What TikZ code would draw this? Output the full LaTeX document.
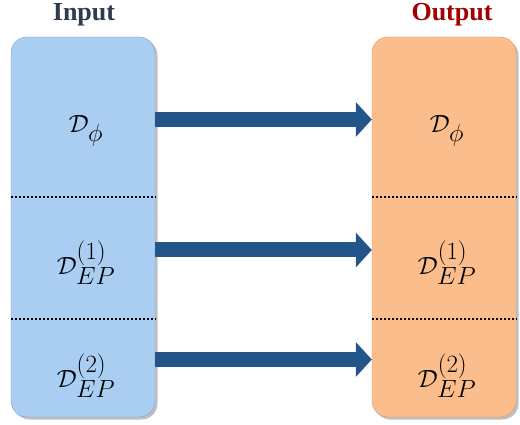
\documentclass[tikz,border=0pt]{standalone}
\usepackage{fontspec}
\setmainfont{Liberation Serif}
\usetikzlibrary{positioning,arrows.meta,shadows}
\definecolor{inblue}{HTML}{A9CEF2}
\definecolor{inedge}{HTML}{7EA3C8}
\definecolor{outpeach}{HTML}{FBBD8C}
\definecolor{outedge}{HTML}{D49A6C}
\definecolor{flowblue}{HTML}{24558A}
\definecolor{inhead}{HTML}{2E3A4E}
\definecolor{outhead}{HTML}{A00000}

\begin{document}
\begin{tikzpicture}[x=1pt,y=-1pt,
   column/.style={rectangle, rounded corners=16pt, minimum width=144pt,
      minimum height=380pt, inner sep=0pt,
      drop shadow={shadow xshift=2.5pt, shadow yshift=-2.5pt, opacity=.5}},
   head/.style={font=\fontsize{26}{30}\selectfont\bfseries, inner sep=0pt},
   lbl/.style={font=\fontsize{34}{38}\selectfont, inner sep=0pt},
   sep/.style={line width=2pt, dash pattern=on 2pt off 2pt},
   flow/.style={draw=flowblue, line width=15pt, -{Triangle[length=16pt,width=34pt]}}]
   \useasboundingbox (0,0) rectangle (520,425);

   % columns
   \node[column, fill=inblue, draw=inedge] (in) at (83,227) {};
   \node[column, fill=outpeach, draw=outedge] (out) at (444,227) {};
   \node[head, text=inhead] (inlbl) at (84,15) {Input};
   \node[head, text=outhead] (outlbl) at (452,15) {Output};

   % rows
   \coordinate (r1) at (0,119.5);
   \coordinate (r2) at (0,250);
   \coordinate (r3) at (0,359.5);
   \coordinate (d1) at (0,197);
   \coordinate (d2) at (0,319);

   \draw[sep] (in.west |- d1) -- (in.east |- d1);
   \draw[sep] (in.west |- d2) -- (in.east |- d2);
   \draw[sep] (out.west |- d1) -- (out.east |- d1);
   \draw[sep] (out.west |- d2) -- (out.east |- d2);

   \node[lbl] (in1) at (86,131) {$\mathcal{D}_{\phi}$};
   \node[lbl] (in2) at (86,263) {$\mathcal{D}_{EP}^{(1)}$};
   \node[lbl] (in3) at (86,376) {$\mathcal{D}_{EP}^{(2)}$};
   \node[lbl] (out1) at (447,131) {$\mathcal{D}_{\phi}$};
   \node[lbl] (out2) at (447,263) {$\mathcal{D}_{EP}^{(1)}$};
   \node[lbl] (out3) at (447,376) {$\mathcal{D}_{EP}^{(2)}$};

   % arrows
   \foreach \r in {r1,r2,r3}
      \draw[flow] (in.east |- \r) -- (out.west |- \r);
\end{tikzpicture}
\end{document}
